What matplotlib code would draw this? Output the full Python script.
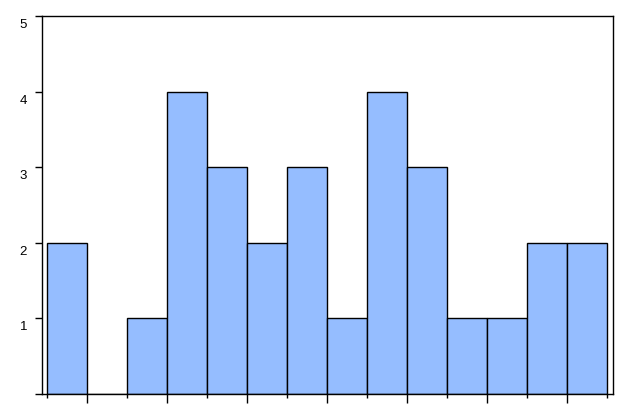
import numpy as np
import matplotlib
matplotlib.use("Agg")
import matplotlib.pyplot as plt
import matplotlib.transforms as mtransforms

bin_edges = list(range(15))
counts = [2, 0, 1, 4, 3, 2, 3, 1, 4, 3, 1, 1, 2, 2]
y_ticks = [0, 1, 2, 3, 4, 5]
y_labels = ["", "1", "2", "3", "4", "5"]

fig = plt.figure(figsize=(6.32, 4.17), dpi=100)
ax = fig.add_axes([42 / 632, 23 / 417, 571 / 632, 378 / 417])

ax.bar(bin_edges[:-1], counts, width=1, align="edge",
       color="#95BDFF", edgecolor="black", linewidth=1)

ax.set_xlim(-0.125, 14.15)
ax.set_ylim(0, 5)

ax.set_yticks(y_ticks)
ax.set_yticklabels([])
ax.tick_params(axis="y", length=5, width=1)

# labels sit a little below their ticks in the original
shift = mtransforms.ScaledTranslation(-15 / 100, -9 / 100, fig.dpi_scale_trans)
for v, lab in zip(y_ticks, y_labels):
    ax.text(0, v, lab, ha="right", va="center", fontsize=9.5,
            family="Liberation Sans", transform=ax.get_yaxis_transform() + shift)

ax.set_xticks(bin_edges[1::2])
ax.set_xticks(bin_edges[0::2], minor=True)
ax.set_xticklabels([])
ax.tick_params(axis="x", which="major", length=6.5, width=1)
ax.tick_params(axis="x", which="minor", length=3, width=1)

for s in ax.spines.values():
    s.set_linewidth(1)

fig.savefig("out.png", dpi=100)
